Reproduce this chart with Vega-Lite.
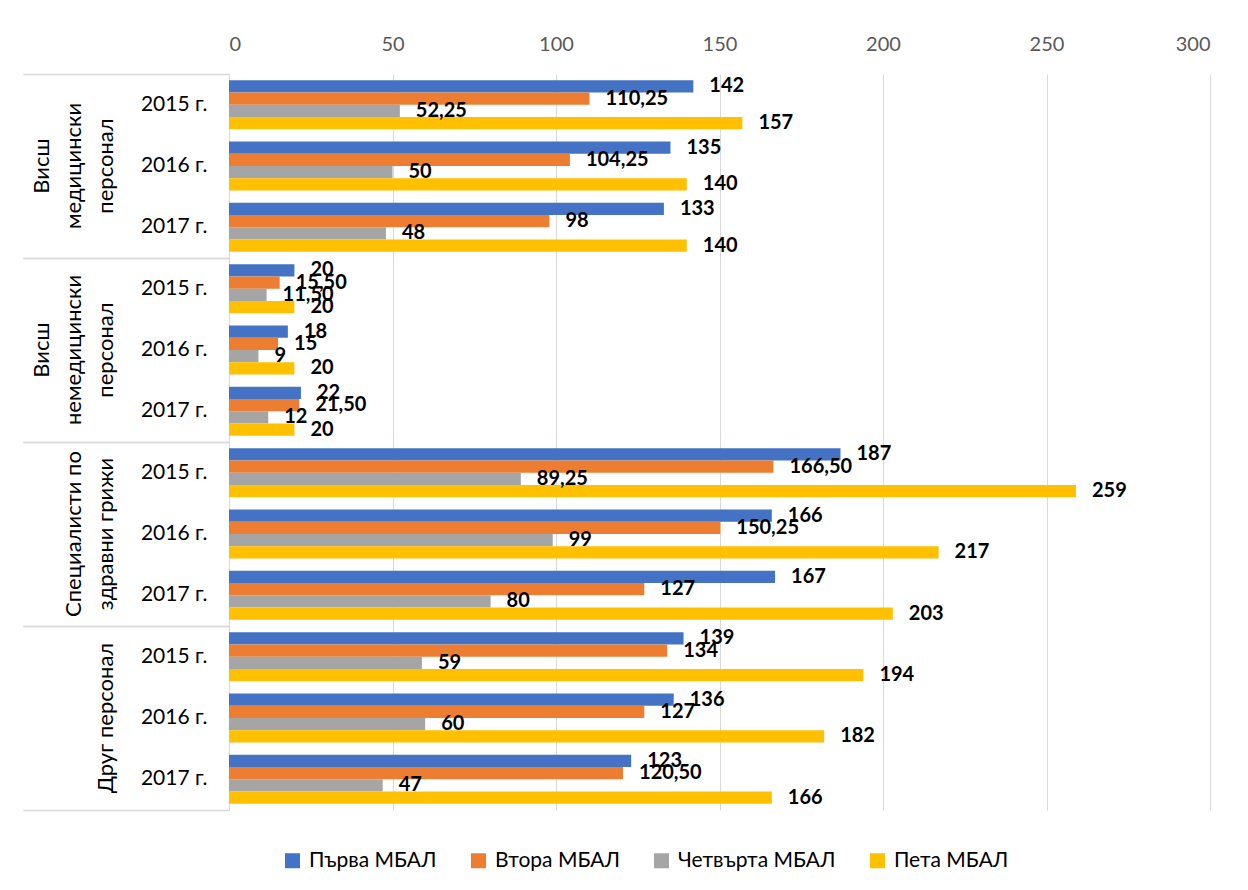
{
  "$schema": "https://vega.github.io/schema/vega-lite/v6.json",
  "autosize": {"type": "pad"},
  "padding": {"left": 22, "top": 34, "right": 30, "bottom": 15},
  "background": "white",
  "bounds": "flush",
  "config": {
    "font": "Lato",
    "view": {"stroke": null},
    "facet": {"spacing": 0}
  },
  "data": {
    "values": [
      {"group": "Висш медицински персонал", "year": "2015 г.", "hospital": "Първа МБАЛ", "value": 142},
      {"group": "Висш медицински персонал", "year": "2015 г.", "hospital": "Втора МБАЛ", "value": 110.25},
      {"group": "Висш медицински персонал", "year": "2015 г.", "hospital": "Четвърта МБАЛ", "value": 52.25},
      {"group": "Висш медицински персонал", "year": "2015 г.", "hospital": "Пета МБАЛ", "value": 157},
      {"group": "Висш медицински персонал", "year": "2016 г.", "hospital": "Първа МБАЛ", "value": 135},
      {"group": "Висш медицински персонал", "year": "2016 г.", "hospital": "Втора МБАЛ", "value": 104.25},
      {"group": "Висш медицински персонал", "year": "2016 г.", "hospital": "Четвърта МБАЛ", "value": 50},
      {"group": "Висш медицински персонал", "year": "2016 г.", "hospital": "Пета МБАЛ", "value": 140},
      {"group": "Висш медицински персонал", "year": "2017 г.", "hospital": "Първа МБАЛ", "value": 133},
      {"group": "Висш медицински персонал", "year": "2017 г.", "hospital": "Втора МБАЛ", "value": 98},
      {"group": "Висш медицински персонал", "year": "2017 г.", "hospital": "Четвърта МБАЛ", "value": 48},
      {"group": "Висш медицински персонал", "year": "2017 г.", "hospital": "Пета МБАЛ", "value": 140},
      {"group": "Висш немедицински персонал", "year": "2015 г.", "hospital": "Първа МБАЛ", "value": 20},
      {"group": "Висш немедицински персонал", "year": "2015 г.", "hospital": "Втора МБАЛ", "value": 15.5},
      {"group": "Висш немедицински персонал", "year": "2015 г.", "hospital": "Четвърта МБАЛ", "value": 11.5},
      {"group": "Висш немедицински персонал", "year": "2015 г.", "hospital": "Пета МБАЛ", "value": 20},
      {"group": "Висш немедицински персонал", "year": "2016 г.", "hospital": "Първа МБАЛ", "value": 18},
      {"group": "Висш немедицински персонал", "year": "2016 г.", "hospital": "Втора МБАЛ", "value": 15},
      {"group": "Висш немедицински персонал", "year": "2016 г.", "hospital": "Четвърта МБАЛ", "value": 9},
      {"group": "Висш немедицински персонал", "year": "2016 г.", "hospital": "Пета МБАЛ", "value": 20},
      {"group": "Висш немедицински персонал", "year": "2017 г.", "hospital": "Първа МБАЛ", "value": 22},
      {"group": "Висш немедицински персонал", "year": "2017 г.", "hospital": "Втора МБАЛ", "value": 21.5},
      {"group": "Висш немедицински персонал", "year": "2017 г.", "hospital": "Четвърта МБАЛ", "value": 12},
      {"group": "Висш немедицински персонал", "year": "2017 г.", "hospital": "Пета МБАЛ", "value": 20},
      {"group": "Специалисти по здравни грижи", "year": "2015 г.", "hospital": "Първа МБАЛ", "value": 187},
      {"group": "Специалисти по здравни грижи", "year": "2015 г.", "hospital": "Втора МБАЛ", "value": 166.5},
      {"group": "Специалисти по здравни грижи", "year": "2015 г.", "hospital": "Четвърта МБАЛ", "value": 89.25},
      {"group": "Специалисти по здравни грижи", "year": "2015 г.", "hospital": "Пета МБАЛ", "value": 259},
      {"group": "Специалисти по здравни грижи", "year": "2016 г.", "hospital": "Първа МБАЛ", "value": 166},
      {"group": "Специалисти по здравни грижи", "year": "2016 г.", "hospital": "Втора МБАЛ", "value": 150.25},
      {"group": "Специалисти по здравни грижи", "year": "2016 г.", "hospital": "Четвърта МБАЛ", "value": 99},
      {"group": "Специалисти по здравни грижи", "year": "2016 г.", "hospital": "Пета МБАЛ", "value": 217},
      {"group": "Специалисти по здравни грижи", "year": "2017 г.", "hospital": "Първа МБАЛ", "value": 167},
      {"group": "Специалисти по здравни грижи", "year": "2017 г.", "hospital": "Втора МБАЛ", "value": 127},
      {"group": "Специалисти по здравни грижи", "year": "2017 г.", "hospital": "Четвърта МБАЛ", "value": 80},
      {"group": "Специалисти по здравни грижи", "year": "2017 г.", "hospital": "Пета МБАЛ", "value": 203},
      {"group": "Друг персонал", "year": "2015 г.", "hospital": "Първа МБАЛ", "value": 139},
      {"group": "Друг персонал", "year": "2015 г.", "hospital": "Втора МБАЛ", "value": 134},
      {"group": "Друг персонал", "year": "2015 г.", "hospital": "Четвърта МБАЛ", "value": 59},
      {"group": "Друг персонал", "year": "2015 г.", "hospital": "Пета МБАЛ", "value": 194},
      {"group": "Друг персонал", "year": "2016 г.", "hospital": "Първа МБАЛ", "value": 136},
      {"group": "Друг персонал", "year": "2016 г.", "hospital": "Втора МБАЛ", "value": 127},
      {"group": "Друг персонал", "year": "2016 г.", "hospital": "Четвърта МБАЛ", "value": 60},
      {"group": "Друг персонал", "year": "2016 г.", "hospital": "Пета МБАЛ", "value": 182},
      {"group": "Друг персонал", "year": "2017 г.", "hospital": "Първа МБАЛ", "value": 123},
      {"group": "Друг персонал", "year": "2017 г.", "hospital": "Втора МБАЛ", "value": 120.5},
      {"group": "Друг персонал", "year": "2017 г.", "hospital": "Четвърта МБАЛ", "value": 47},
      {"group": "Друг персонал", "year": "2017 г.", "hospital": "Пета МБАЛ", "value": 166}
    ]
  },
  "transform": [
    {"calculate": "datum.value % 1 != 0 ? replace(format(datum.value, '.2f'), '.', ',') : format(datum.value, 'd')", "as": "label"}
  ],
  "resolve": {"scale": {"y": "independent", "yOffset": "independent"}},
  "facet": {
    "row": {
      "field": "group",
      "type": "nominal",
      "sort": ["Висш медицински персонал", "Висш немедицински персонал", "Специалисти по здравни грижи", "Друг персонал"],
      "header": {
        "title": null,
        "labelOrient": "left",
        "labelAngle": -90,
        "labelBaseline": "bottom",
        "labelAlign": "center",
        "labelFontSize": 22,
        "labelLineHeight": 32,
        "labelColor": "#000000",
        "labelPadding": 89,
        "labelExpr": "datum.value == 'Висш медицински персонал' ? ['Висш', 'медицински', 'персонал'] : datum.value == 'Висш немедицински персонал' ? ['Висш', 'немедицински', 'персонал'] : datum.value == 'Специалисти по здравни грижи' ? ['Специалисти по', 'здравни грижи'] : datum.value"
      }
    }
  },
  "spacing": 0,
  "spec": {
    "width": 981,
    "height": 184,
    "resolve": {"scale": {"y": "independent", "yOffset": "independent"}, "axis": {"y": "independent"}},
    "layer": [
      {
        "mark": {"type": "rule", "strokeOpacity": 0},
        "encoding": {
          "y": {
            "datum": "band",
            "type": "nominal",
            "scale": {"paddingInner": 0, "paddingOuter": 0},
            "axis": {
              "title": null,
              "orient": "left",
              "labels": false,
              "domain": false,
              "grid": false,
              "ticks": true,
              "tickBand": "extent",
              "tickSize": 206,
              "tickColor": "#D9D9D9",
              "tickWidth": 1.5,
              "offset": 0
            }
          }
        }
      },
      {
        "resolve": {"scale": {"y": "shared", "yOffset": "shared"}, "axis": {"y": "shared"}},
        "layer": [
          {
            "mark": {"type": "bar"},
            "encoding": {
              "color": {
                "field": "hospital",
                "type": "nominal",
                "sort": ["Първа МБАЛ", "Втора МБАЛ", "Четвърта МБАЛ", "Пета МБАЛ"],
                "scale": {
                  "domain": ["Първа МБАЛ", "Втора МБАЛ", "Четвърта МБАЛ", "Пета МБАЛ"],
                  "range": ["#4472C4", "#ED7D31", "#A5A5A5", "#FFC000"]
                },
                "legend": {
                  "title": null,
                  "orient": "none",
                  "legendX": 53,
                  "legendY": 776,
                  "direction": "horizontal",
                  "symbolType": "square",
                  "symbolSize": 225,
                  "symbolStrokeWidth": 0,
                  "labelFontSize": 21,
                  "labelColor": "#000000",
                  "labelOffset": 6,
                  "columnPadding": 31
                }
              }
            }
          },
          {
            "mark": {"type": "text", "align": "left", "baseline": "middle", "dx": 16, "fontWeight": "bold", "fontSize": 20, "color": "#000000"},
            "encoding": {
              "text": {"field": "label", "type": "nominal"}
            }
          }
        ],
        "encoding": {
          "y": {
            "field": "year",
            "type": "nominal",
            "scale": {"paddingInner": 0.2, "paddingOuter": 0.1},
            "axis": {
              "orient": "left",
              "title": null,
              "ticks": false,
              "domain": true,
              "domainColor": "#D9D9D9",
              "labelFontSize": 21,
              "labelColor": "#000000",
              "labelPadding": 22
            }
          },
          "yOffset": {
            "field": "hospital",
            "type": "nominal",
            "sort": ["Първа МБАЛ", "Втора МБАЛ", "Четвърта МБАЛ", "Пета МБАЛ"],
            "scale": {"paddingInner": 0, "paddingOuter": 0}
          }
        }
      }
    ],
    "encoding": {
      "x": {
        "field": "value",
        "type": "quantitative",
        "scale": {"domain": [0, 300], "nice": false},
        "axis": {
          "orient": "top",
          "title": null,
          "values": [0, 50, 100, 150, 200, 250, 300],
          "domain": false,
          "ticks": false,
          "grid": true,
          "gridColor": "#D9D9D9",
          "labelColor": "#595959",
          "labelFontSize": 20,
          "labelPadding": 20
        }
      }
    }
  }
}
